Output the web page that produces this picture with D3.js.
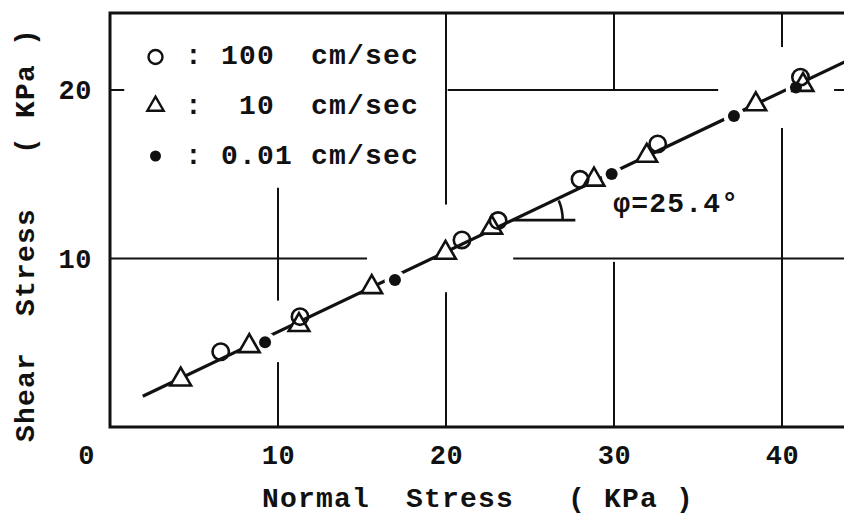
<!DOCTYPE html>
<html><head><meta charset="utf-8">
<script src="https://cdn.jsdelivr.net/npm/d3@7"></script>
<style>
html,body{margin:0;padding:0;background:#fff;}
svg{display:block;}
text{font-family:"Liberation Mono","DejaVu Sans Mono",monospace;font-weight:bold;fill:#111;}
</style></head><body>
<svg id="chart" width="844" height="516"></svg>
<script>
// ---- data ----
const circlePts   = [[6.59,4.47],[11.31,6.55],[20.95,11.1],[23.1,12.25],[27.98,14.7],[32.6,16.8],[41.1,20.76]];
const trianglePts = [[4.21,2.82],[8.29,4.80],[11.25,6.05],[15.58,8.30],[19.97,10.34],[22.72,11.83],[28.81,14.68],[31.95,16.1],[38.44,19.15],[41.25,20.3]];
const dotPts      = [[9.23,5.03],[16.96,8.72],[29.86,15.01],[37.14,18.46],[40.83,20.15]];
const phiDeg = 25.4;
const intercept = 0.9;
const lineXRange = [1.95, 44.5];
const xTicks = [0,10,20,30,40];
const yTicks = [10,20];
const legendLabels = [": 100  cm/sec", ":  10  cm/sec", ": 0.01 cm/sec"];
const legendKinds = ["circle","triangle","dot"];
const xTitle = "Normal  Stress   ( KPa )";
const yTitle = "Shear  Stress   ( KPa )";
const phiLabel = "\u03C6=25.4\u00B0";
const vGrid = [{x:10,segs:[[0,3.85],[7.5,14.2]]},{x:20,segs:[[0,8.0],[13.2,24.6]]},{x:30,segs:[[0,9.8],[20,24.6]]},{x:40,segs:[[0,17.75],[22.55,24.6]]}];
const hGrid = [{y:10,segs:[[0,15.3],[24.0,44]]},{y:20,segs:[[0,0.85],[20.1,36.2],[43.1,44]]}];
const angleMarkX = [23.97, 27.7];

// ---- layout ----
const W = 844, H = 516;
const svg = d3.select("#chart");
svg.append("rect").attr("width",W).attr("height",H).attr("fill","#fff");
const x = d3.scaleLinear().domain([0, 43.69]).range([110, 844]);
const y = d3.scaleLinear().domain([0, 24.57]).range([427, 13]);
const ink = "#111";

svg.append("clipPath").attr("id","plot").append("rect")
  .attr("x", x(0)).attr("y", y(24.57)).attr("width", W - x(0)).attr("height", y(0) - y(24.57));

// grid segments
const g = svg.append("g").attr("stroke", ink).attr("stroke-width", 2).attr("clip-path","url(#plot)");
vGrid.forEach(v => v.segs.forEach(s => g.append("line")
  .attr("x1", x(v.x)).attr("x2", x(v.x)).attr("y1", y(s[0])).attr("y2", y(s[1]))));
hGrid.forEach(h => h.segs.forEach(s => g.append("line")
  .attr("y1", y(h.y)).attr("y2", y(h.y)).attr("x1", x(s[0])).attr("x2", x(s[1]))));

// frame
svg.append("path")
  .attr("d", `M${W},${y(24.57)} H${x(0)} V${y(0)} H${W}`)
  .attr("fill","none").attr("stroke", ink).attr("stroke-width", 3);

// regression line
const slope = Math.tan(phiDeg * Math.PI / 180);
const fit = lineXRange.map(v => [v, intercept + slope * v]);
svg.append("path").attr("clip-path","url(#plot)")
  .attr("d", d3.line().x(d => x(d[0])).y(d => y(d[1]))(fit))
  .attr("fill","none").attr("stroke", ink).attr("stroke-width", 3.2);

// white halos around dots (the line breaks around them)
svg.append("g").selectAll("circle").data(dotPts).join("circle")
  .attr("cx", d => x(d[0])).attr("cy", d => y(d[1])).attr("r", 10.5).attr("fill","#fff");

// markers
const triPath = d3.symbol().type(d3.symbolTriangle).size(185);
svg.append("g").selectAll("path").data(trianglePts).join("path")
  .attr("d", triPath).attr("transform", d => `translate(${x(d[0])},${y(d[1])})`)
  .attr("fill","#fff").attr("stroke", ink).attr("stroke-width", 2.6).attr("stroke-linejoin","miter");
svg.append("g").selectAll("circle").data(circlePts).join("circle")
  .attr("cx", d => x(d[0])).attr("cy", d => y(d[1])).attr("r", 8.2)
  .attr("fill","none").attr("stroke", ink).attr("stroke-width", 2.6);
svg.append("g").selectAll("circle").data(dotPts).join("circle")
  .attr("cx", d => x(d[0])).attr("cy", d => y(d[1])).attr("r", 6).attr("fill", ink);

// angle mark
const vx = angleMarkX[0], vy = intercept + slope * vx;
svg.append("line").attr("x1", x(vx)).attr("x2", x(angleMarkX[1])).attr("y1", y(vy)).attr("y2", y(vy))
  .attr("stroke", ink).attr("stroke-width", 2.8);
const pixAngle = Math.atan2(y(vy) - y(vy + slope), x(vx + 1) - x(vx));
const ap = d3.path();
const R = 50;
ap.moveTo(x(vx) + R, y(vy));
ap.arc(x(vx), y(vy), R, 0, -pixAngle * 0.9, true);
svg.append("path").attr("d", ap.toString()).attr("fill","none").attr("stroke", ink).attr("stroke-width", 2.6);
svg.append("text").attr("x", x(29.95)).attr("y", y(12.75))
  .style("font-size","28px").style("letter-spacing","1.2px").text(phiLabel);

// axes (labels only)
const xa = svg.append("g").attr("transform", `translate(0,${y(0)})`)
  .call(d3.axisBottom(x).tickValues(xTicks).tickSize(0).tickPadding(18).tickFormat(d3.format("d")));
xa.select(".domain").remove();
xa.selectAll("text").style("font-size","27px").attr("fill", ink)
  .attr("font-family", null).attr("dx", d => d === 0 ? -24 : 0);
const ya = svg.append("g").attr("transform", `translate(${x(0)},0)`)
  .call(d3.axisLeft(y).tickValues(yTicks).tickSize(0).tickPadding(18).tickFormat(d3.format("d")));
ya.select(".domain").remove();
ya.selectAll("text").style("font-size","27px").attr("fill", ink).attr("font-family", null);
svg.selectAll(".tick text").style("letter-spacing","0.5px");

// axis titles
svg.append("text").attr("x", 262).attr("y", 507).attr("xml:space","preserve")
  .style("white-space","pre").style("font-size","28px").style("letter-spacing","1.2px").text(xTitle);
svg.append("text").attr("transform","translate(34,442) rotate(-90)").attr("xml:space","preserve")
  .style("white-space","pre").style("font-size","28px").style("letter-spacing","1.2px").text(yTitle);

// legend
const legY = [57, 106, 156];
const legBase = [64, 114, 164];
legendKinds.forEach((k, i) => {
  const cx = 155.5, cy = legY[i];
  if (k === "circle") svg.append("circle").attr("cx", cx).attr("cy", cy).attr("r", 7)
      .attr("fill","none").attr("stroke", ink).attr("stroke-width", 2.4);
  else if (k === "triangle") svg.append("path").attr("d", d3.symbol().type(d3.symbolTriangle).size(115)())
      .attr("transform", `translate(${cx},${cy})`).attr("fill","none").attr("stroke", ink).attr("stroke-width", 2.4);
  else svg.append("circle").attr("cx", cx).attr("cy", cy).attr("r", 5.5).attr("fill", ink);
  svg.append("text").attr("x", 185).attr("y", legBase[i]).attr("xml:space","preserve")
    .style("white-space","pre").style("font-size","28px").style("letter-spacing","1.2px").text(legendLabels[i]);
});
</script>
</body></html>
